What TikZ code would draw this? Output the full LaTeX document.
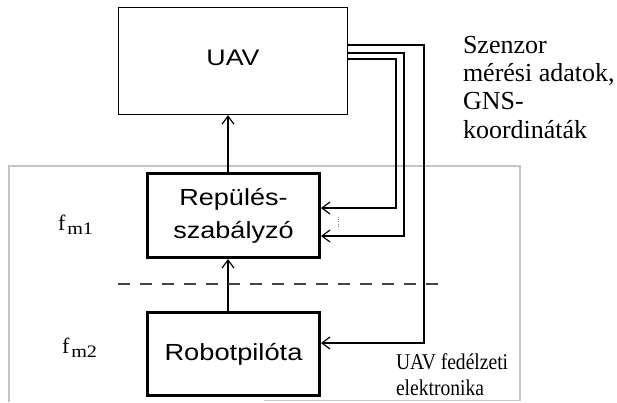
\documentclass[tikz,border=0pt]{standalone}
\usepackage{fontspec}
\setmainfont{Liberation Serif}
\newfontfamily\arialf{Liberation Sans}
\usetikzlibrary{arrows.meta}
\definecolor{framegray}{HTML}{C4C4C4}
\definecolor{dashgray}{HTML}{444444}
\newcommand{\sx}[2]{\scalebox{#1}[1]{#2}}
\tikzset{
  blockthin/.style={draw, line width=1.4pt, inner sep=0pt},
  blockthick/.style={draw, line width=3pt, inner sep=0pt, align=center},
  arr/.style={line width=1.4pt, -{Straight Barb[length=8pt,width=12pt,line width=1.2pt]}},
  lbl/.style={anchor=base west, inner sep=0pt, outer sep=0pt},
}
\newcommand{\fsub}[1]{{\fontsize{22}{24}\selectfont f}\kern2pt\raisebox{-4pt}{\fontsize{17.5}{20}\selectfont\sx{1.15}{#1}}}
\begin{document}
\begin{tikzpicture}[x=1pt,y=-1pt]
\useasboundingbox (0,0) rectangle (617,402);
% outer frame (partially open at the bottom)
\draw[framegray, line width=1.3pt] (264,400.5) -- (520,400.5) -- (520,166) -- (9,166) -- (9,402);
% blocks
\node[blockthin, minimum width=229pt, minimum height=107pt, text depth=6pt,
      font=\arialf\fontsize{22.5}{26}\selectfont] (uav) at (233,61) {\sx{1.19}{UAV}};
\node[blockthick, minimum width=172pt, minimum height=84pt,
      font=\arialf\fontsize{23.3}{33}\selectfont] (rep) at (233.5,215.5) {\sx{1.16}{Repülés-}\\\sx{1.16}{szabályzó}};
\node[blockthick, minimum width=172pt, minimum height=83pt,
      font=\arialf\fontsize{23.3}{30}\selectfont] (robot) at (233.5,354) {\sx{1.17}{Robotpilóta}};
% vertical arrows
\draw[arr] (rep.north -| 228,0) -- (uav.south -| 228,0);
\draw[arr] (robot.north -| 228,0) -- (rep.south -| 228,0);
% dashed separator
\coordinate (dL) at (118,284);
\coordinate (dR) at (439,284);
\draw[dashgray, line width=1.4pt, dash pattern=on 12pt off 10pt] (dL) -- (dR);
% feedback wires
\coordinate (a1) at (424,45);  \coordinate (a2) at (424,343);
\coordinate (b1) at (404,53);  \coordinate (b2) at (404,236);
\coordinate (c1) at (396,59);  \coordinate (c2) at (396,208);
\draw[arr] (uav.east |- a1) -- (a1) -- (a2) -- (robot.east |- a2);
\draw[arr] (uav.east |- b1) -- (b1) -- (b2) -- (rep.east |- b2);
\draw[arr] (uav.east |- c1) -- (c1) -- (c2) -- (rep.east |- c2);
% dots between the two inputs
\coordinate (p1) at (338,217);
\coordinate (p2) at (338,227);
\draw[gray, line width=1pt, dash pattern=on 1pt off 1.2pt] (p1) -- (p2);
% labels
\node[lbl] (fm1) at (58,230) {\fsub{m1}};
\node[lbl] (fm2) at (62,353) {\fsub{m2}};
\begin{scope}[every node/.style={lbl, font=\fontsize{26}{28}\selectfont}]
\node (s1) at (463,53) {Szenzor};
\node (s2) at (463,81) {mérési adatok,};
\node (s3) at (463,109.5) {GNS-};
\node (s4) at (463,138) {koordináták};
\end{scope}
\begin{scope}[every node/.style={lbl, font=\fontsize{22.5}{24}\selectfont}]
\node (e1) at (396,369) {\sx{0.87}{UAV fedélzeti}};
\node (e2) at (396,395) {\sx{0.87}{elektronika}};
\end{scope}
\end{tikzpicture}
\end{document}
